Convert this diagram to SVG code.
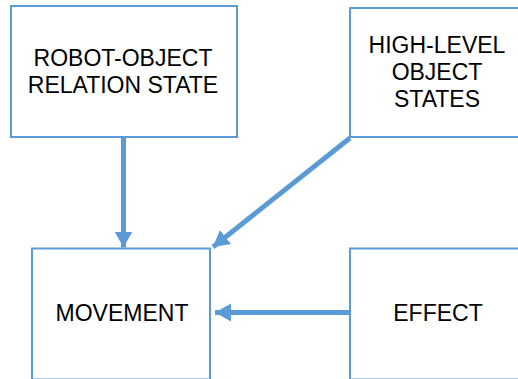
<svg xmlns="http://www.w3.org/2000/svg" width="518" height="379" viewBox="0 0 518 379">
<style>
.box{fill:#fff;stroke:#5B9BD5;stroke-width:2}
.lbl{font-family:"Liberation Sans",Arial,sans-serif;font-size:23px;fill:#000;text-anchor:middle}
.conn{stroke:#5B9BD5;stroke-width:5;fill:none}
</style>
<defs>
<marker id="ah" markerUnits="userSpaceOnUse" markerWidth="17" markerHeight="19" refX="16" refY="9" orient="auto">
<path d="M0,0 L16,9 L0,18 z" fill="#5B9BD5"/>
</marker>
</defs>
<rect width="518" height="379" fill="#fff"/>
<g id="robot-object">
<rect class="box" x="11" y="6" width="226" height="131"/>
<text class="lbl" x="123" y="65.5">ROBOT-OBJECT</text>
<text class="lbl" x="123" y="92.5">RELATION STATE</text>
</g>
<g id="high-level">
<rect class="box" x="350" y="8" width="176" height="129"/>
<text class="lbl" x="437" y="53.3">HIGH-LEVEL</text>
<text class="lbl" x="437" y="79.5">OBJECT</text>
<text class="lbl" x="437" y="107.3">STATES</text>
</g>
<g id="movement">
<rect class="box" x="32" y="248.5" width="178" height="131"/>
<text class="lbl" x="122" y="321">MOVEMENT</text>
</g>
<g id="effect">
<rect class="box" x="350" y="248.5" width="176" height="131"/>
<text class="lbl" x="438" y="321">EFFECT</text>
</g>
<g id="connectors">
<line class="conn" x1="123.5" y1="137" x2="123.5" y2="247.5" marker-end="url(#ah)"/>
<line class="conn" x1="350" y1="138" x2="213" y2="247" marker-end="url(#ah)"/>
<line class="conn" x1="349" y1="312.5" x2="215" y2="312.5" marker-end="url(#ah)"/>
</g>
</svg>
